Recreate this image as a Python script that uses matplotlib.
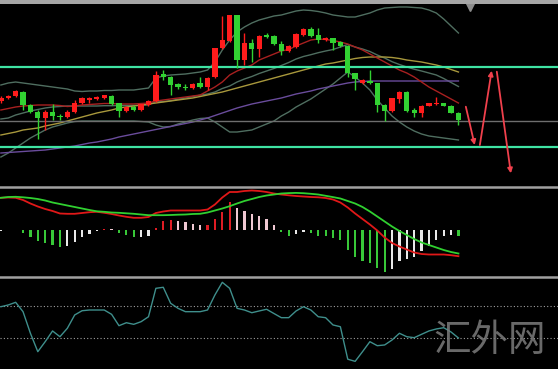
import matplotlib
matplotlib.use("Agg")
import numpy as np
import matplotlib.pyplot as plt
from matplotlib.lines import Line2D
from matplotlib.patches import Rectangle

# --- candles (price units, arbitrary scale) ---
opens = [99.0, 102.0, 104.0, 108.3, 95.0, 88.3, 81.7, 88.3, 84.0, 82.7,
         87.7, 96.7, 100.0, 101.0, 102.0, 104.3, 96.7, 89.0, 93.3, 90.0,
         95.0, 99.0, 125.7, 123.3, 116.0, 113.3, 112.3, 116.7, 113.3, 123.3,
         151.7, 159.3, 185.0, 140.0, 156.7, 150.7, 165.0, 164.0, 156.0, 149.3,
         152.7, 165.0, 170.7, 165.0, 160.0, 161.7, 158.3, 154.0, 126.7, 116.7,
         119.3, 116.7, 95.0, 89.0, 101.0, 108.3, 90.0, 86.7, 94.3, 95.7,
         96.7, 94.3, 87.3]
highs = [104.0, 105.3, 110.0, 109.5, 96.0, 90.0, 89.5, 96.0, 86.0, 89.5,
         100.0, 103.0, 103.3, 104.0, 105.5, 105.0, 97.5, 94.0, 94.5, 96.5,
         100.0, 129.0, 130.0, 124.5, 117.0, 116.0, 117.0, 123.3, 123.0, 152.5,
         184.0, 185.5, 185.5, 167.0, 161.0, 165.0, 167.3, 165.0, 159.3, 155.0,
         167.0, 172.0, 172.7, 171.7, 163.0, 162.5, 159.5, 155.0, 127.5, 121.0,
         130.0, 117.5, 96.0, 102.5, 109.5, 109.0, 91.7, 95.0, 97.5, 103.3,
         97.5, 95.0, 88.0]
lows = [97.0, 100.7, 103.0, 90.0, 86.5, 61.0, 70.0, 80.0, 80.0, 81.5,
        87.0, 96.0, 96.7, 100.0, 101.0, 95.0, 83.0, 88.0, 89.0, 89.0,
        94.0, 98.0, 120.0, 105.0, 111.5, 110.0, 111.5, 112.5, 110.0, 122.5,
        151.0, 158.5, 132.0, 135.0, 138.0, 143.3, 161.7, 155.0, 145.0, 148.5,
        152.0, 164.0, 163.5, 156.7, 159.0, 150.0, 153.0, 123.3, 110.0, 116.0,
        116.0, 88.3, 79.3, 88.0, 97.0, 88.0, 83.3, 83.3, 93.5, 95.0,
        93.5, 86.5, 75.0]
closes = [102.3, 104.0, 109.0, 95.0, 87.7, 82.3, 88.3, 84.0, 82.7, 88.3,
          97.3, 101.7, 101.7, 103.0, 104.7, 96.0, 89.0, 93.3, 90.0, 95.7,
          99.3, 125.0, 122.7, 115.0, 112.7, 112.0, 116.0, 113.3, 122.3, 151.7,
          160.0, 185.0, 140.0, 156.7, 150.7, 164.3, 162.7, 156.0, 149.3, 154.0,
          166.0, 171.0, 164.3, 160.0, 162.0, 157.3, 154.0, 126.7, 120.7, 120.0,
          116.7, 95.0, 89.0, 101.7, 108.3, 89.0, 86.7, 94.0, 96.7, 97.3,
          94.3, 87.3, 80.0]

# bollinger bands + moving averages
bb_upper = [115, 117, 118, 117, 116, 115, 114, 113, 112, 111,
            109, 108.5, 109, 109, 109.5, 109.5, 110, 110, 110, 111,
            112, 122, 124, 125, 125.5, 126, 127, 128, 130, 138,
            150, 160, 168, 173, 177, 180, 182, 184, 185, 187,
            189, 190, 189.5, 188.5, 187, 185, 184, 183, 183, 185,
            187, 190, 192, 192.5, 193, 193, 192.5, 192, 190, 187,
            181, 174, 167]
bb_mid = [81, 82, 85, 87, 89, 90.5, 92, 93, 93.5, 94,
          94, 94, 94, 94, 94.3, 94.3, 94.5, 94.5, 94.5, 94.8,
          95, 98.5, 98.5, 99.3, 100.8, 102, 103.5, 104.8, 106, 108,
          111.5, 114, 118, 121, 123.5, 126.5, 129, 131.5, 134.5, 137.5,
          141, 143.5, 145.3, 147.3, 149, 150.5, 153, 155.5, 153, 151,
          148.5, 145, 142, 138.3, 135.5, 133, 130.8, 129, 127, 125,
          121.5, 117.5, 113.5]
bb_lower = [43, 47, 52, 57, 62, 66, 70, 73, 75, 77,
            78.5, 79, 79, 79, 79, 79, 79, 79, 79, 78.5,
            78, 75, 73, 73.5, 76, 78, 80, 81.5, 82, 78,
            73, 68, 68, 69, 70, 73, 76, 79, 84, 88,
            93, 97, 101, 106, 111, 116, 122, 128, 123, 117,
            110, 100, 92, 84, 78, 73, 69, 66, 64, 63,
            62, 61, 60]
ma_red = [90, 91.5, 93, 94, 94.5, 95, 95, 95, 94.5, 93.5,
          94, 95, 95.5, 96, 96.5, 96.5, 96, 96, 96, 96.5,
          97, 99, 100, 101, 102, 103, 104, 105, 109, 113,
          118, 125, 129, 132, 135, 140, 143, 146, 149, 150.5,
          154, 157, 160, 161, 160.5, 159.5, 158, 156, 153, 150,
          146, 142, 138, 134, 130, 127, 123, 118, 113, 109,
          105, 101, 97]
ma_yellow = [65, 66.5, 68, 70, 71, 72, 74, 75.5, 77, 79,
             81, 83, 85, 87, 88.5, 90, 92, 93, 94, 95,
             96, 97, 98, 99, 100, 101, 102, 103.5, 105, 106.5,
             108, 110, 112, 114, 116, 118, 120, 122, 124, 126,
             128, 130, 132, 134, 136, 137, 138.5, 140, 141.5, 142.5,
             143, 143, 143, 142.5, 141.5, 140, 139, 138, 136.5, 135,
             133, 130.5, 128]
ma_purple = [47, 47.5, 48, 48.5, 49, 49.5, 50, 51, 52, 53,
             54, 55.5, 57, 58, 59.5, 61, 63, 64.5, 66, 67.5,
             69, 70.5, 72, 73.5, 75, 76.5, 78, 80, 82, 84.5,
             87, 89.5, 92, 94, 96, 97.5, 99, 100.5, 102, 104,
             106, 107.5, 109, 111, 112.5, 114, 115.5, 117, 118, 118.5,
             119, 119, 119, 119, 119, 119, 119, 119, 119, 119,
             119, 119, 119]

levels_green = [133, 53]
level_grey = 79

# projected path (red arrows)
proj_x = [63.0, 64.2, 64.9, 66.5, 67.2, 69.1]
proj_y = [93.3, 55.0, 55.0, 129.3, 128.3, 26.7]

# --- MACD ---
macd_hist = [-1.0, -0.8, -0.6, -3.3, -7, -11, -13, -15, -17, -16,
             -12, -7.5, -4.5, -1.5, 0.7, 0.4, -3, -5, -7.5, -7.3,
             -6, 2, 8.5, 10, 9, 7.7, 6, 4.3, 4.5, 11,
             17.3, 28, 22, 19, 15.7, 13.3, 10.7, 5, -2, -6,
             -4, -2.7, -3.3, -6, -6.5, -8.7, -10.3, -20.5, -27.7, -31,
             -33.3, -38, -42.5, -39.3, -31.7, -29.5, -27, -21.5, -16.5, -10,
             -6, -5, -6]
macd_signal = [31.7, 32.5, 32.7, 32.2, 31.5, 30.5, 29, 27, 25.5, 24,
               22.5, 21, 19.5, 18.2, 17.7, 17, 16.7, 16.2, 15.7, 15,
               14.3, 14.3, 14.3, 14.5, 14.8, 15, 15.5, 15.7, 17, 19,
               21, 23.3, 26, 28.5, 30.5, 32.5, 34, 35, 36, 36.4,
               36.6, 36.3, 35.7, 35, 33.7, 32.4, 31, 28.5, 26, 22.5,
               18, 13, 8, 3, -1.5, -5.5, -9.5, -13, -15.5, -18,
               -20.5, -22.5, -24]
macd_line = [31.7, 32, 31.7, 29.5, 26, 23, 20.5, 18.5, 16, 15.7,
             15.7, 16.5, 17.3, 17.7, 16.7, 15.5, 14, 12.7, 11.7, 11.7,
             12.5, 16.5, 18, 19, 19, 19, 19, 19, 20, 25,
             32, 37.5, 37.5, 38.5, 39, 38.5, 37.5, 36, 35, 34.2,
             33.5, 33, 32.5, 32.2, 31.5, 30, 27, 22, 16, 10.5,
             5, -1, -8, -13.5, -17, -20, -23, -24.5, -25, -25,
             -25, -25.7, -26.7]

# --- oscillator (bottom pane) ---
rsi = [69.1, 71.3, 74.6, 62.9, 35.9, 12.9, 25.4, 38.8, 31.6, 42.1,
       58.8, 64.1, 65, 65, 65, 59.6, 45.4, 49.1, 47.1, 50.4,
       56.6, 92.1, 93.4, 73.4, 67.1, 62.9, 62.9, 62.9, 65, 83.8,
       99.6, 92.1, 67.1, 65, 61.6, 63.8, 65.9, 60.6, 55.4, 55.4,
       63.8, 69.1, 65, 56.6, 55.4, 46.3, 44.1, 3.5, 0.8, 12.9,
       25.4, 20.4, 21.3, 27.5, 35.9, 31.6, 30.4, 34.6, 38.8, 41.3,
       42.9, 37.5, 30]
rsi_levels = [70, 30]

W, H = 558, 369
idx = np.arange(len(opens))
xlim = (-0.122, 75.49)

fig = plt.figure(figsize=(W / 100, H / 100), dpi=100, facecolor="black")


def fy(py):
    return 1 - py / H


def panel(top, bottom, ylim):
    ax = fig.add_axes([0, fy(bottom), 1, (bottom - top) / H])
    ax.set_facecolor("black")
    ax.set_xlim(*xlim)
    ax.set_ylim(*ylim)
    ax.axis("off")
    return ax


# main pane
ax = panel(4, 185, (15, 196))
band_c = "#4f6e60"
ax.plot(idx, bb_upper, color=band_c, lw=1)
ax.plot(idx, bb_mid, color=band_c, lw=1)
ax.plot(idx, bb_lower, color=band_c, lw=1)
ax.plot(idx, ma_purple, color="#6a4c9c", lw=1)
ax.plot(idx, ma_yellow, color="#a8983c", lw=1)
ax.plot(idx, ma_red, color="#a82020", lw=1)
ax.axhline(level_grey, color="#6e6e6e", lw=1)
for lv in levels_green:
    ax.axhline(lv, color="#3fe3a3", lw=1.6)

o, h, l, c = map(np.array, (opens, highs, lows, closes))
up = c >= o
cols = np.where(up, "#ff1c1c", "#32d232")
ax.vlines(idx, l, h, colors=cols, lw=1, zorder=3)
body_lo = np.minimum(o, c)
body_h = np.maximum(np.abs(c - o), 1.5)
ax.bar(idx, body_h, bottom=body_lo, width=0.72, color=cols, zorder=4)

for k in range(0, len(proj_x), 2):
    ax.annotate("", xy=(proj_x[k + 1], proj_y[k + 1]), xytext=(proj_x[k], proj_y[k]),
                arrowprops=dict(arrowstyle="-|>", color="#f0404c", lw=1.3,
                                mutation_scale=7, shrinkA=0, shrinkB=0))
ax.plot([63.6], [193.5], marker="v", color="#8c8c8c", ms=6, clip_on=False)

# MACD pane
ax2 = panel(187, 276, (-46.5, 42.5))
hist_cols = []
prev = macd_hist[0]
for v in macd_hist:
    rising = v >= prev
    if v >= 0:
        hist_cols.append("#e01c24" if rising else "#f0c8d2")
    else:
        hist_cols.append("#e8e8e8" if rising else "#38c838")
    prev = v
ax2.bar(idx, macd_hist, width=0.3, color=hist_cols)
ax2.plot(idx, macd_line, color="#e01818", lw=1.3)
ax2.plot(idx, macd_signal, color="#30d030", lw=1.3)

# oscillator pane
ax3 = panel(278, 369, (-8.75, 105))
for lv in rsi_levels:
    ax3.axhline(lv, color="#a0a0a0", lw=0.8, ls=(0, (1, 2)))
ax3.plot(idx, rsi, color="#3f8f8c", lw=1)

# frame lines
fig.add_artist(Rectangle((0, fy(3.5)), 1, 3.5 / H, transform=fig.transFigure,
                         color="#a6a6a6", lw=0))
for py in (186.5, 277):
    fig.add_artist(Line2D([0, 1], [fy(py)] * 2, transform=fig.transFigure,
                          color="#a0a0a0", lw=1.8))

fig.text(490 / W, fy(340), "汇外网", color="#7c7c7c", fontsize=27,
         family=["Noto Sans CJK SC", "DejaVu Sans"], fontweight="light",
         ha="center", va="center", alpha=0.85, zorder=10)

fig.savefig("out.png", dpi=100, facecolor="black")
